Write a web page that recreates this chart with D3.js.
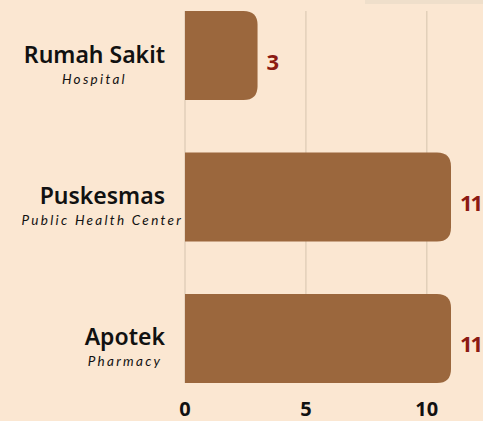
<!DOCTYPE html>
<html>
<head>
<meta charset="utf-8">
<script src="https://cdn.jsdelivr.net/npm/d3@7"></script>
<style>
  html, body { margin: 0; padding: 0; background: #fbe7d2; }
  svg { display: block; }
</style>
</head>
<body>
<svg id="chart" width="483" height="421"></svg>
<script>
(function() {

  // Categories (Indonesian name and English subtitle).
  var categories = ["Rumah Sakit", "Puskesmas", "Apotek"];
  var subtitles = ["Hospital", "Public Health Center", "Pharmacy"];

  // Counts per category.
  var counts = [3, 11, 11];

  // Tick values on the x axis.
  var ticks = [0, 5, 10];

  // Colours.
  var bg = "#fbe7d2";
  var barColour = "#9b673d";
  var gridColour = "#dccab4";
  var valueColour = "#8b1a12";

  var width = 483, height = 421;
  var left = 185, right = 451, top = 11, bottom = 383;
  var radius = 14;

  var svg = d3.select("#chart");

  svg.append("rect")
    .attr("width", width).attr("height", height)
    .attr("fill", bg);

  // faint strip at the top edge
  svg.append("rect")
    .attr("x", 365).attr("y", 0).attr("width", 118).attr("height", 4)
    .attr("fill", "#efdfcb");

  var x = d3.scaleLinear().domain([0, 11]).range([left, right]);
  var y = d3.scaleBand().domain(categories).range([top, bottom])
            .paddingInner(0.37).paddingOuter(0);

  // Grid lines.
  svg.selectAll(".grid")
    .data(ticks)
    .enter()
    .append("line")
    .attr("class", "grid")
    .attr("x1", function(d) { return x(d); })
    .attr("x2", function(d) { return x(d); })
    .attr("y1", top)
    .attr("y2", bottom)
    .attr("stroke", gridColour)
    .attr("stroke-width", 1.2);

  // Bars, rounded on the right end only.
  var rows = categories.map(function(c, i) {
    return { name: c, sub: subtitles[i], value: counts[i] };
  });

  function barPath(d) {
    var x0 = x(0), x1 = x(d.value), y0 = y(d.name), h = y.bandwidth();
    var r = Math.min(radius, (x1 - x0) / 2);
    return "M" + x0 + "," + y0 +
           "H" + (x1 - r) +
           "Q" + x1 + "," + y0 + " " + x1 + "," + (y0 + r) +
           "V" + (y0 + h - r) +
           "Q" + x1 + "," + (y0 + h) + " " + (x1 - r) + "," + (y0 + h) +
           "H" + x0 + "Z";
  }

  svg.selectAll(".bar")
    .data(rows)
    .enter()
    .append("path")
    .attr("class", "bar")
    .attr("d", barPath)
    .attr("fill", barColour);

  // Value labels.
  svg.selectAll(".value")
    .data(rows)
    .enter()
    .append("text")
    .attr("class", "value")
    .attr("x", function(d) { return x(d.value) + 9; })
    .attr("y", function(d) { return y(d.name) + y.bandwidth() / 2 + 14; })
    .attr("font-family", "'Noto Sans', sans-serif")
    .attr("font-weight", 700)
    .attr("font-size", 22)
    .attr("letter-spacing", -2)
    .attr("fill", valueColour)
    .text(function(d) { return d.value; });

  // Category labels.
  var labelRight = 165;
  var gs = svg.selectAll(".label")
    .data(rows)
    .enter()
    .append("g")
    .attr("class", "label");

  gs.append("text")
    .attr("class", "title")
    .attr("x", labelRight)
    .attr("y", function(d) { return y(d.name) + y.bandwidth() / 2 + 7; })
    .attr("text-anchor", "end")
    .attr("font-family", "'Noto Sans', sans-serif")
    .attr("font-weight", 600)
    .attr("font-size", 23)
    .attr("fill", "#111")
    .text(function(d) { return d.name; });

  gs.each(function(d) {
    var g = d3.select(this);
    var t = g.select(".title").node();
    var bb = t.getBBox();
    g.append("text")
      .attr("x", bb.x + bb.width / 2)
      .attr("y", y(d.name) + y.bandwidth() / 2 + 28)
      .attr("text-anchor", "middle")
      .attr("font-family", "Lato, sans-serif")
      .attr("font-weight", 400)
      .attr("font-style", "italic")
      .attr("font-size", 13.5)
      .attr("letter-spacing", 2.3)
      .attr("fill", "#111")
      .text(d.sub);
  });

  // X axis tick labels.
  svg.selectAll(".tick")
    .data(ticks)
    .enter()
    .append("text")
    .attr("class", "tick")
    .attr("x", function(d) { return x(d); })
    .attr("y", 416)
    .attr("text-anchor", "middle")
    .attr("font-family", "'Noto Sans', sans-serif")
    .attr("font-weight", 700)
    .attr("font-size", 20)
    .attr("fill", "#111")
    .text(function(d) { return d; });

})();
</script>
</body>
</html>
